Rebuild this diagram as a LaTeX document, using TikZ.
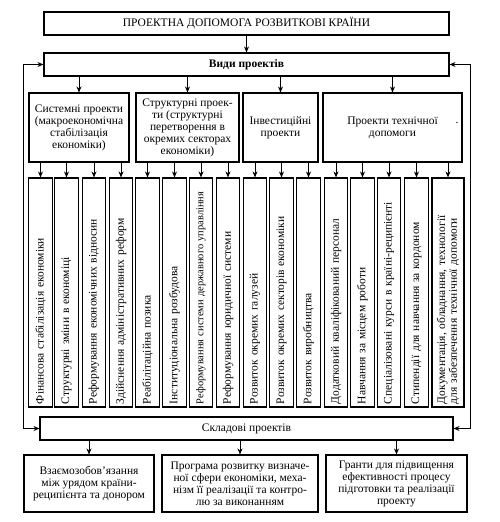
\documentclass[tikz,border=0pt]{standalone}
\usepackage{fontspec}
\setmainfont{Liberation Serif}
\usetikzlibrary{arrows.meta, positioning}

\begin{document}
\begin{tikzpicture}[
    x=1pt, y=-1pt,
    every node/.style={font=\fontsize{11.5}{12}\selectfont},
    box/.style={rectangle, draw, line width=1.1pt, align=center, inner sep=2pt},
    wide/.style={box, minimum width=405pt, minimum height=23pt},
    group/.style={box, minimum height=69pt},
    vbox/.style={rectangle, draw, line width=1.1pt, rotate=90, minimum width=229pt, minimum height=23.5pt, inner xsep=3pt, inner ysep=1pt, text width=223pt, align=left},
    result/.style={box, minimum height=57pt},
    arrow/.style={-{Stealth[length=6pt, width=5pt]}, line width=0.9pt},
    twoway/.style={{Stealth[length=6pt, width=5pt]}-{Stealth[length=6pt, width=5pt]}, line width=0.9pt}
]
\useasboundingbox (0,0) rectangle (499,522);

% ---- верхні блоки ----
\node[wide]                 (title) at (246.5,23.5) {ПРОЕКТНА ДОПОМОГА РОЗВИТКОВІ КРАЇНИ};
\node[wide, font=\fontsize{11.5}{12}\selectfont\bfseries] (vidy) at (246.5,64.5) {Види проектів};

% ---- види проектів ----
\node[group, minimum width=100pt] (sys)    at (79,127.5)    {Системні проекти\\(макроекономічна\\стабілізація\\економіки)};
\node[group, minimum width=103pt] (struct) at (187.5,127.5) {Структурні проек-\\ти (структурні\\перетворення в\\окремих секторах\\економіки)};
\node[group, minimum width=75pt]  (invest) at (280.5,127.5) {Інвестиційні\\проекти};
\node[group, minimum width=139pt] (tech)   at (392.5,127.5) {Проекти технічної\\допомоги};
\node (techdot) at (457,123) {.};

% ---- вертикальні блоки ----
\node[vbox] (s1)  at (40.5,292.5)  {Фінансова стабілізація економіки};
\node[vbox] (s2)  at (66.5,292.5)  {Структурні зміни в економіці};
\node[vbox] (s3)  at (94,292.5)    {Реформування економічних відносин};
\node[vbox] (s4)  at (121,292.5)   {Здійснення адміністративних реформ};
\node[vbox] (s5)  at (147.5,292.5) {Реабілітаційна позика};
\node[vbox] (s6)  at (174.5,292.5) {Інституціональна розбудова};
\node[vbox, font=\fontsize{10.4}{12}\selectfont] (s7) at (201,292.5) {Реформування системи державного управління};
\node[vbox] (s8)  at (228,292.5)   {Реформування юридичної системи};
\node[vbox] (s9)  at (255,292.5)   {Розвиток окремих галузей};
\node[vbox] (s10) at (281.5,292.5) {Розвиток окремих секторів економіки};
\node[vbox] (s11) at (308.5,292.5) {Розвиток виробництва};
\node[vbox] (s12) at (336,292.5)   {Додатковий кваліфікований персонал};
\node[vbox] (s13) at (362.5,292.5) {Навчання за місцем роботи};
\node[vbox] (s14) at (389,292.5)   {Спеціалізовані курси в країні-реципієнті};
\node[vbox] (s15) at (416.5,292.5) {Стипендії для навчання за кордоном};
\node[vbox, minimum height=32pt, font=\fontsize{11.5}{10}\selectfont] (s16) at (448,292.5) {Документація, обладнання, технології\\для забезпечення технічної допомоги};

% ---- складові ----
\node[box, minimum width=413pt, minimum height=23pt] (sklad) at (246.5,428.5) {Складові проектів};
\node[result, minimum width=130pt] (r1) at (89,483.5)    {Взаємозобов’язання\\між урядом країни-\\реципієнта та донором};
\node[result, minimum width=156pt] (r2) at (240,483.5)   {Програма розвитку визначе-\\ної сфери економіки, меха-\\нізм її реалізації та контро-\\лю за виконанням};
\node[result, minimum width=141pt] (r3) at (396.5,483.5) {Гранти для підвищення\\ефективності процесу\\підготовки та реалізації\\проекту};

% ---- стрілки ----
\draw[arrow] (title) -- (vidy);
\draw[arrow] (vidy.south -| sys) -- (sys);
\draw[arrow] (vidy.south -| struct) -- (struct);
\draw[arrow] (vidy.south -| invest) -- (invest);
\draw[arrow] (vidy.south -| tech) -- (tech);

\draw[arrow] (sys.south -| s1) -- (s1);
\draw[arrow] (sys.south -| s2) -- (s2);
\draw[arrow] (sys.south -| s3) -- (s3);
\draw[arrow] (sys.south -| s4) -- (s4);
\draw[arrow] (struct.south -| s5) -- (s5);
\draw[arrow] (struct.south -| s6) -- (s6);
\draw[arrow] (struct.south -| s7) -- (s7);
\draw[arrow] (struct.south -| s8) -- (s8);
\draw[arrow] (invest.south -| s9) -- (s9);
\draw[arrow] (invest.south -| s10) -- (s10);
\draw[arrow] (invest.south -| s11) -- (s11);
\draw[arrow] (tech.south -| s12) -- (s12);
\draw[arrow] (tech.south -| s13) -- (s13);
\draw[arrow] (tech.south -| s14) -- (s14);
\draw[arrow] (tech.south -| s15) -- (s15);
\draw[arrow] (tech.south -| s16) -- (s16);

\draw[arrow] (sklad.south -| r1) -- (r1);
\draw[arrow] (sklad.south -| r2) -- (r2);
\draw[arrow] (sklad.south -| r3) -- (r3);

% ---- бічні лінії між "Види проектів" і "Складові проектів" ----
\draw[twoway] (vidy.west) -- ++(-20,0) |- (sklad.west);
\draw[twoway] (vidy.east) -- ++(21,0) |- (sklad.east);

\end{tikzpicture}
\end{document}
